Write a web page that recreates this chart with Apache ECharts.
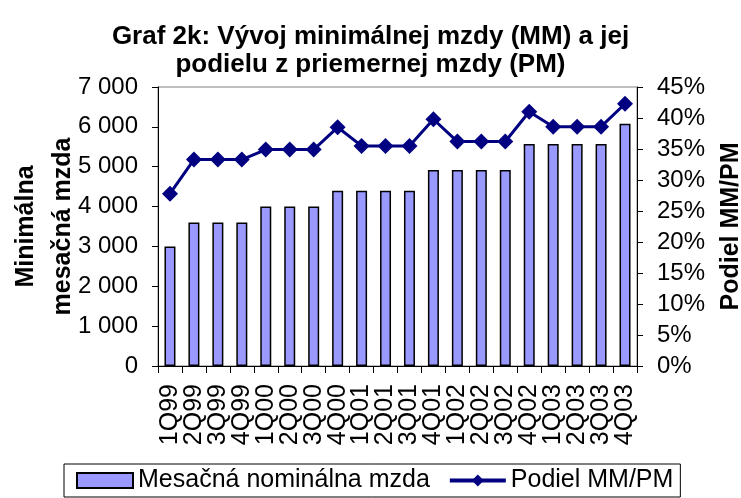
<!DOCTYPE html>
<html>
<head>
<meta charset="utf-8">
<script src="https://cdn.jsdelivr.net/npm/echarts@6/dist/echarts.min.js"></script>
<style>
html,body{margin:0;padding:0;background:#fff;}
#chart{width:741px;height:498px;}
</style>
</head>
<body>
<div id="chart"></div>
<script>
const categories = ['1Q99','2Q99','3Q99','4Q99','1Q00','2Q00','3Q00','4Q00','1Q01','2Q01','3Q01','4Q01','1Q02','2Q02','3Q02','4Q02','1Q03','2Q03','3Q03','4Q03'];
const minWage = [3000,3600,3600,3600,4000,4000,4000,4400,4400,4400,4400,4920,4920,4920,4920,5570,5570,5570,5570,6080];
const shareMMPM = [27.8,33.3,33.3,33.3,34.9,34.9,34.9,38.5,35.5,35.5,35.5,39.8,36.2,36.2,36.2,41.0,38.6,38.6,38.6,42.3];
const seriesNames = ['Mesačná nominálna mzda','Podiel MM/PM'];
const titleText = 'Graf 2k: Vývoj minimálnej mzdy (MM) a jej\npodielu z priemernej mzdy (PM)';
const leftAxisName = 'Minimálna\nmesačná mzda';
const rightAxisName = 'Podiel MM/PM';

const FONT = '"Liberation Sans", Arial, sans-serif';
const chart = echarts.init(document.getElementById('chart'), null, {renderer:'canvas'});
chart.setOption({
  animation:false,
  backgroundColor:'#fff',
  title:{
    text:titleText,
    left:'center',
    top:18,
    textStyle:{fontFamily:'"Liberation Sans Narrow", "Liberation Sans", Arial, sans-serif',fontWeight:'bold',fontSize:26,lineHeight:28,color:'#000'}
  },
  legend:{
    left:64, top:464,
    data:[{name:seriesNames[0],icon:'rect'},{name:seriesNames[1],lineStyle:{width:4,color:'#000080'}}],
    itemWidth:56, itemHeight:15, itemGap:18,
    lineStyle:{width:4},
    borderColor:'#000', borderWidth:1,
    padding:[4,7,4,12],
    textStyle:{fontFamily:FONT,fontSize:25,color:'#000'}
  },
  grid:{left:158,right:104,top:87,bottom:132,containLabel:false,outerBoundsMode:'none',show:true,borderColor:'#808080',borderWidth:1,backgroundColor:'transparent'},
  xAxis:{
    type:'category',
    data:categories,
    axisLine:{lineStyle:{color:'#000',width:1}},
    axisTick:{show:true,length:7,inside:false,lineStyle:{color:'#000'}},
    axisLabel:{rotate:90,fontFamily:FONT,fontSize:25,color:'#000',margin:18,interval:0}
  },
  yAxis:[{
    type:'value',min:0,max:7000,interval:1000,
    name:leftAxisName,nameLocation:'middle',nameGap:76,nameRotate:90,nameMoveOverlap:false,
    nameTextStyle:{fontFamily:FONT,fontWeight:'bold',fontSize:25,lineHeight:37,color:'#000'},
    axisLine:{show:true,lineStyle:{color:'#000'}},
    axisTick:{show:true,length:6,lineStyle:{color:'#000'}},
    splitLine:{show:false},
    axisLabel:{fontFamily:FONT,fontSize:24,color:'#000',margin:20,
      formatter:v=>String(v).replace(/\B(?=(\d{3})+(?!\d))/g,' ')}
  },{
    type:'value',min:0,max:45,interval:5,position:'right',
    name:rightAxisName,nameLocation:'middle',nameGap:82,nameRotate:90,nameMoveOverlap:false,
    nameTextStyle:{fontFamily:FONT,fontWeight:'bold',fontSize:25,color:'#000'},
    axisLine:{show:true,lineStyle:{color:'#000'}},
    axisTick:{show:true,length:6,lineStyle:{color:'#000'}},
    splitLine:{show:false},
    axisLabel:{fontFamily:FONT,fontSize:24,color:'#000',margin:20,formatter:'{value}%'}
  }],
  series:[{
    name:seriesNames[0],
    type:'bar',
    yAxisIndex:0,
    data:minWage,
    barWidth:11,
    itemStyle:{color:'#9999ff',borderColor:'#000',borderWidth:1.5}
  },{
    name:seriesNames[1],
    type:'line',
    yAxisIndex:1,
    data:shareMMPM,
    symbol:'diamond',symbolSize:16,
    lineStyle:{color:'#000080',width:3},
    itemStyle:{color:'#000080'}
  }]
});
</script>
</body>
</html>
